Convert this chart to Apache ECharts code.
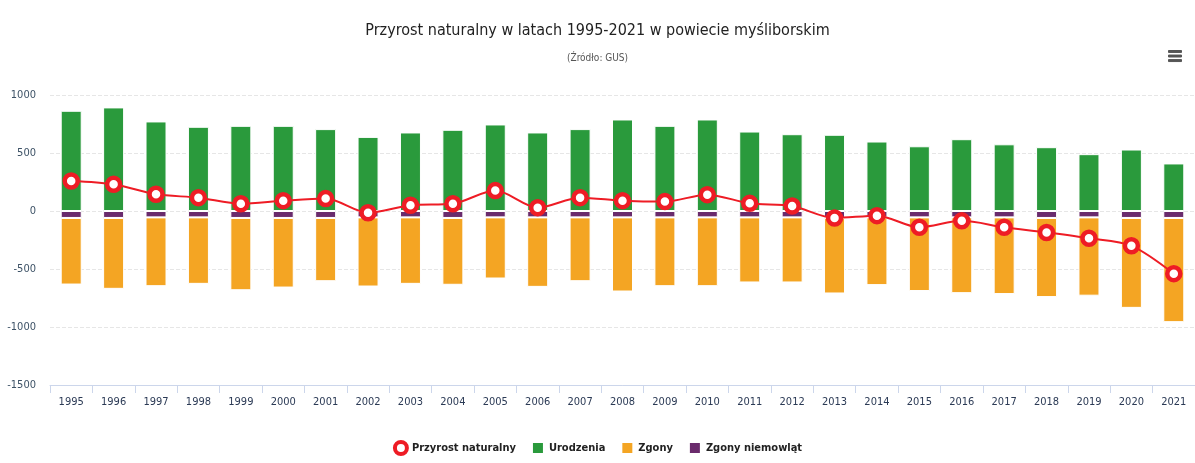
<!DOCTYPE html>
<html>
<head>
<meta charset="utf-8">
<script src="https://cdn.jsdelivr.net/npm/echarts@6/dist/echarts.min.js"></script>
<style>
  html, body { margin: 0; padding: 0; background: #fff; }
  #chart { width: 1195px; height: 463px; }
</style>
</head>
<body>
<div id="chart"></div>
<script>
// dane (GUS)
const lata = ["1995", "1996", "1997", "1998", "1999", "2000", "2001", "2002", "2003", "2004",
  "2005", "2006", "2007", "2008", "2009", "2010", "2011", "2012", "2013", "2014",
  "2015", "2016", "2017", "2018", "2019", "2020", "2021"];
const urodzenia = [864, 893, 772, 726, 734, 734, 706, 639, 677, 700,
  746, 677, 706, 789, 734, 789, 685, 662, 657, 599,
  558, 619, 575, 550, 490, 530, 410];
const zgony = [-574, -611, -593, -573, -623, -600, -545, -596, -573, -576,
  -527, -599, -550, -639, -593, -593, -561, -561, -651, -584,
  -635, -653, -661, -682, -675, -775, -898];
const zgonyNiemowlat = [-60, -60, -55, -55, -60, -60, -60, -55, -55, -60,
  -55, -55, -55, -55, -55, -55, -55, -55, -60, -55,
  -55, -55, -55, -60, -55, -60, -60];
const przyrost = [259, 230, 144, 115, 63, 89, 107, -15, 50, 63,
  176, 29, 115, 89, 81, 141, 66, 43, -60, -40,
  -140, -85, -140, -185, -235, -300, -540];

const font = "'DejaVu Sans Condensed', 'Liberation Sans Narrow', sans-serif";

const chart = echarts.init(document.getElementById("chart"));
chart.setOption({
  backgroundColor: "#fff",
  animation: false,
  title: {
    text: "Przyrost naturalny w latach 1995-2021 w powiecie myśliborskim",
    subtext: "(Źródło: GUS)",
    left: "center",
    top: 18,
    itemGap: 14,
    textStyle: { fontFamily: font, fontSize: 16, fontWeight: "normal", color: "#222" },
    subtextStyle: { fontFamily: font, fontSize: 10, color: "#555" }
  },
  toolbox: {
    right: -2,
    top: 35,
    itemSize: 13,
    feature: {
      myMenu: {
        show: true,
        title: "Menu",
        icon: "path://M0,0H20V3H0Z M0,7H20V10H0Z M0,14H20V17H0Z",
        onclick: function () {}
      }
    },
    iconStyle: { color: "#555", borderColor: "#555" }
  },
  legend: {
    bottom: 2,
    left: "center",
    itemWidth: 12,
    itemHeight: 12,
    itemGap: 15,
    textStyle: { fontFamily: font, fontSize: 11, fontWeight: "bold", color: "#222" },
    data: [
      { name: "Przyrost naturalny", icon: "circle",
        itemStyle: { color: "#fff", borderColor: "#ee1c25", borderWidth: 4 } },
      { name: "Urodzenia", icon: "rect" },
      { name: "Zgony", icon: "rect" },
      { name: "Zgony niemowląt", icon: "rect" }
    ]
  },
  grid: { left: 50, right: 0, top: 95, bottom: 78 },
  xAxis: {
    type: "category",
    data: lata,
    axisLine: { onZero: false, lineStyle: { color: "#ccd6eb" } },
    axisTick: { show: true, length: 8, lineStyle: { color: "#ccd6eb" } },
    axisLabel: { fontFamily: font, fontSize: 11, color: "#2b3a55", margin: 12 }
  },
  yAxis: {
    type: "value",
    min: -1500,
    max: 1000,
    interval: 500,
    axisLabel: {
      fontFamily: font, fontSize: 11, color: "#3d5266", margin: 14,
      formatter: function (v) { return String(v); }
    },
    splitLine: { lineStyle: { color: "#e6e6e6", type: "dashed" } }
  },
  series: [
    {
      name: "Urodzenia",
      type: "bar",
      stack: "ludnosc",
      barWidth: 21,
      data: urodzenia,
      itemStyle: { color: "#2a9a3c", borderColor: "#fff", borderWidth: 1 }
    },
    {
      name: "Zgony niemowląt",
      type: "bar",
      stack: "ludnosc",
      barWidth: 21,
      data: zgonyNiemowlat,
      itemStyle: { color: "#6a2b6c", borderColor: "#fff", borderWidth: 1 }
    },
    {
      name: "Zgony",
      type: "bar",
      stack: "ludnosc",
      barWidth: 21,
      data: zgony,
      itemStyle: { color: "#f4a523", borderColor: "#fff", borderWidth: 1 }
    },
    {
      name: "Przyrost naturalny",
      type: "line",
      smooth: 0.3,
      z: 5,
      data: przyrost,
      symbol: "circle",
      symbolSize: 13,
      lineStyle: { color: "#ee1c25", width: 2 },
      itemStyle: { color: "#fff", borderColor: "#ee1c25", borderWidth: 4.5 }
    }
  ]
});
</script>
</body>
</html>
